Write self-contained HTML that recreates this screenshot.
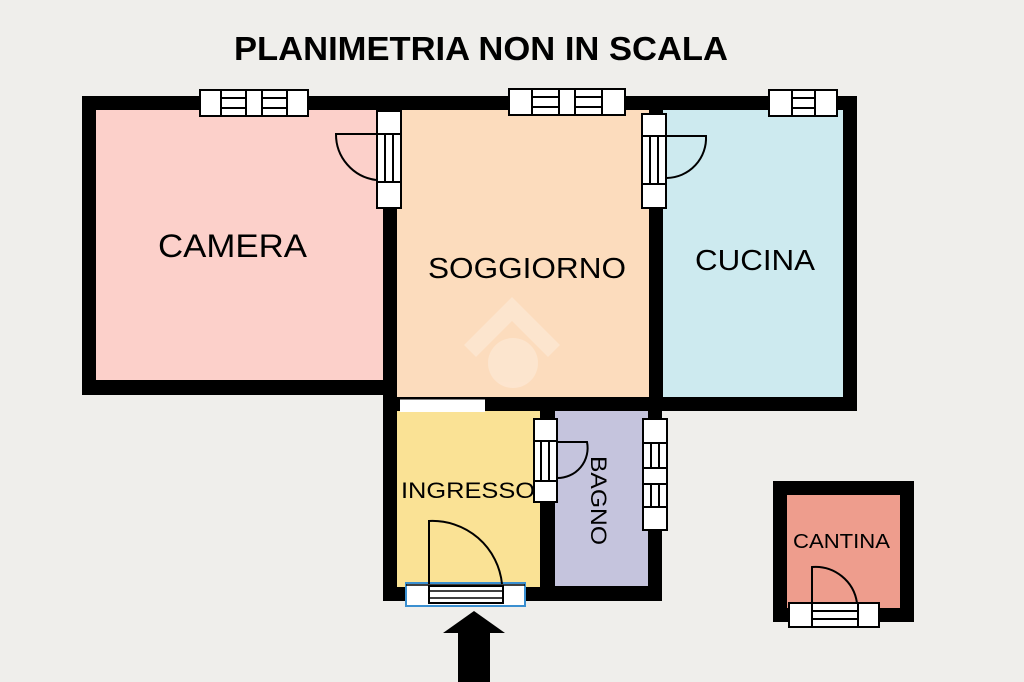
<!DOCTYPE html>
<html><head><meta charset="utf-8"><style>
html,body{margin:0;padding:0;background:#efeeeb;}
svg{display:block;}
text{font-family:"Liberation Sans",sans-serif;fill:#000;}
</style></head><body>
<svg width="1024" height="682" viewBox="0 0 1024 682" xmlns="http://www.w3.org/2000/svg">
<rect width="1024" height="682" fill="#efeeeb"/>
<text x="234" y="60" font-size="33" font-weight="bold" textLength="494" lengthAdjust="spacingAndGlyphs">PLANIMETRIA NON IN SCALA</text>

<rect x="82" y="96" width="315" height="299" fill="#000"/>
<rect x="383" y="96" width="474" height="315" fill="#000"/>
<rect x="383" y="395" width="279" height="206" fill="#000"/>
<rect x="96" y="110" width="287" height="270" fill="#fcd0ca"/>
<rect x="397" y="110" width="252" height="287" fill="#fcdcbd"/>
<rect x="663" y="110" width="180" height="287" fill="#cdeaef"/>
<rect x="397" y="411" width="143" height="176" fill="#fae295"/>
<rect x="555" y="411" width="93" height="175" fill="#c5c4dd"/>

<g fill="#fde6d0" opacity="0.9">
<polygon points="512,297 560,345 548,357 512,321 476,357 464,345"/>
<circle cx="513" cy="363" r="25"/>
</g>

<rect x="773" y="481" width="141" height="141" fill="#000"/>
<rect x="787" y="495" width="113" height="113" fill="#ee9d8d"/>

<g fill="#fff" stroke="#000" stroke-width="2">
<rect x="200" y="90" width="108" height="26"/>
<line x1="221" y1="90" x2="221" y2="116"/><line x1="287" y1="90" x2="287" y2="116"/>
<line x1="246" y1="90" x2="246" y2="116"/><line x1="262" y1="90" x2="262" y2="116"/>
<line x1="221" y1="98" x2="246" y2="98"/><line x1="221" y1="108" x2="246" y2="108"/>
<line x1="262" y1="98" x2="287" y2="98"/><line x1="262" y1="108" x2="287" y2="108"/>
<rect x="509" y="89" width="116" height="26"/>
<line x1="532" y1="89" x2="532" y2="115"/><line x1="559" y1="89" x2="559" y2="115"/>
<line x1="575" y1="89" x2="575" y2="115"/><line x1="602" y1="89" x2="602" y2="115"/>
<line x1="532" y1="97" x2="559" y2="97"/><line x1="532" y1="107" x2="559" y2="107"/>
<line x1="575" y1="97" x2="602" y2="97"/><line x1="575" y1="107" x2="602" y2="107"/>
<rect x="769" y="90" width="68" height="26"/>
<line x1="792" y1="90" x2="792" y2="116"/><line x1="815" y1="90" x2="815" y2="116"/>
<line x1="792" y1="98" x2="815" y2="98"/><line x1="792" y1="108" x2="815" y2="108"/>

<rect x="377" y="111" width="24" height="97"/>
<line x1="377" y1="134" x2="401" y2="134"/><line x1="377" y1="182" x2="401" y2="182"/>
<line x1="385" y1="134" x2="385" y2="182"/><line x1="393" y1="134" x2="393" y2="182"/>
<rect x="642" y="114" width="24" height="94"/>
<line x1="642" y1="136" x2="666" y2="136"/><line x1="642" y1="184" x2="666" y2="184"/>
<line x1="650" y1="136" x2="650" y2="184"/><line x1="658" y1="136" x2="658" y2="184"/>
<rect x="534" y="419" width="23" height="83"/>
<line x1="534" y1="441" x2="557" y2="441"/><line x1="534" y1="481" x2="557" y2="481"/>
<line x1="541" y1="441" x2="541" y2="481"/><line x1="549" y1="441" x2="549" y2="481"/>
<rect x="643" y="419" width="24" height="111"/>
<line x1="643" y1="443" x2="667" y2="443"/><line x1="643" y1="468" x2="667" y2="468"/>
<line x1="643" y1="484" x2="667" y2="484"/><line x1="643" y1="507" x2="667" y2="507"/>
<line x1="651" y1="443" x2="651" y2="468"/><line x1="659" y1="443" x2="659" y2="468"/>
<line x1="651" y1="484" x2="651" y2="507"/><line x1="659" y1="484" x2="659" y2="507"/>
<rect x="789" y="603" width="90" height="24"/>
<line x1="812" y1="603" x2="812" y2="627"/><line x1="858" y1="603" x2="858" y2="627"/>
<line x1="812" y1="611" x2="858" y2="611"/><line x1="812" y1="619" x2="858" y2="619"/>
</g>

<rect x="400" y="399" width="85" height="13" fill="#fff"/>
<line x1="400" y1="399" x2="485" y2="399" stroke="#000" stroke-width="1"/>

<rect x="406" y="583" width="119" height="23" fill="#fff" stroke="#3a8fd0" stroke-width="2"/>
<rect x="429" y="586" width="74" height="17" fill="#fff" stroke="#000" stroke-width="2"/>
<line x1="429" y1="591" x2="503" y2="591" stroke="#000" stroke-width="1.5"/>
<line x1="429" y1="598" x2="503" y2="598" stroke="#000" stroke-width="1.5"/>
<line x1="406" y1="585" x2="525" y2="585" stroke="#000" stroke-width="1.5"/>

<g fill="none" stroke="#000" stroke-width="2">
<path d="M376 134 H336 A46 46 0 0 0 376 180"/>
<path d="M667 136 H706 A40 40 0 0 1 667 178"/>
<path d="M557 442 H587 A30 30 0 0 1 557 478"/>
<path d="M429 584 V521 A70 70 0 0 1 502 584"/>
<path d="M812 603 V567 A42 42 0 0 1 857 603"/>
</g>

<polygon points="474,611 505,633 490,633 490,682 458,682 458,633 443,633" fill="#000"/>

<text x="158" y="257" font-size="32" textLength="149" lengthAdjust="spacingAndGlyphs">CAMERA</text>
<text x="428" y="278" font-size="29" textLength="198" lengthAdjust="spacingAndGlyphs">SOGGIORNO</text>
<text x="695" y="270" font-size="29" textLength="120" lengthAdjust="spacingAndGlyphs">CUCINA</text>
<text x="401" y="498" font-size="22" textLength="134" lengthAdjust="spacingAndGlyphs">INGRESSO</text>
<text transform="translate(591,456) rotate(90)" font-size="22" textLength="89" lengthAdjust="spacingAndGlyphs">BAGNO</text>
<text x="793" y="548" font-size="20" textLength="97" lengthAdjust="spacingAndGlyphs">CANTINA</text>
</svg>
</body></html>
